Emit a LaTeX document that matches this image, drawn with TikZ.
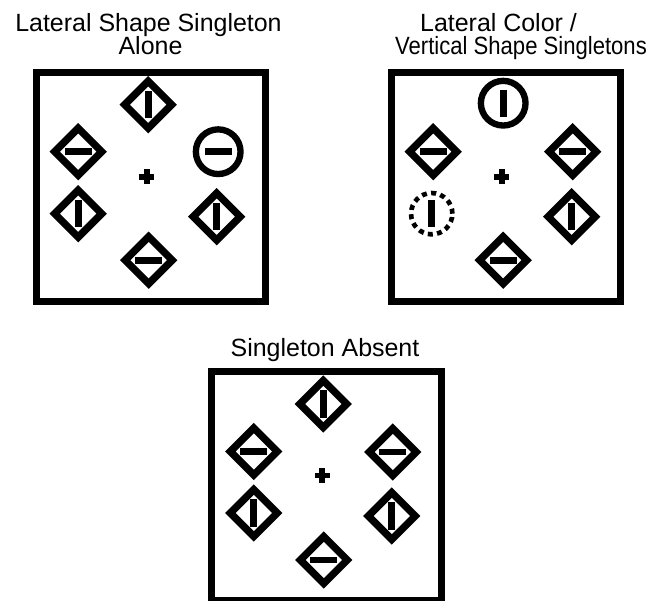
\documentclass[tikz,border=0pt]{standalone}
\usepackage{fontspec}
\newfontfamily\titlefont{Liberation Sans}
\usepackage{tikz}
\usetikzlibrary{shapes.geometric}
\tikzset{
  frame/.style       = {draw=black, line width=0.21cm},
  item diamond/.style = {diamond, draw=black, line width=0.22cm,
                         minimum size=1.5cm, inner sep=0pt},
  item circle/.style = {circle, draw=black, line width=0.19cm,
                        minimum size=1.34cm, inner sep=0pt},
  item dashed/.style = {circle, draw=black, line width=0.14cm,
                        dash pattern=on 0.15cm off 0.13cm,
                        minimum size=1.24cm, inner sep=0pt},
  hbar/.style        = {fill=black, inner sep=0pt,
                        minimum width=0.82cm, minimum height=0.2cm},
  vbar/.style        = {fill=black, inner sep=0pt,
                        minimum width=0.2cm, minimum height=0.82cm},
  fixarm/.style      = {fill=black, inner sep=0pt},
  title/.style       = {font=\titlefont\fontsize{21.3pt}{20pt}\selectfont,
                        anchor=base, inner sep=0pt},
}

\begin{document}
\begin{tikzpicture}[x=0.03cm, y=-0.03cm]
  \useasboundingbox (0,0) rectangle (652,601);

  % titles
  \node[title] (t1a) at (148.5,31.7) {Lateral Shape Singleton};
  \node[title] (t1b) at (150.5,55) {Alone};
  \node[title] (t2a) at (498.5,31.7) {Lateral Color /};
  \node[title, xscale=0.885] (t2b) at (521,55) {Vertical Shape Singletons};
  \node[title] (t3)  at (325,356) {Singleton Absent};

  % panel 1: lateral shape singleton alone
  \begin{scope}[shift={(146.7,176.7)}]
    \draw[frame] (-110.5,-104.5) rectangle (119,124.5);
    \node[fixarm, minimum width=0.46cm, minimum height=0.17cm] (a-fix) at (0,0) {};
    \node[fixarm, minimum width=0.17cm, minimum height=0.46cm] at (a-fix) {};
    \node[item diamond] (a-top) at (1.5,-72) {};
    \node[vbar] at (a-top) {};
    \node[item diamond] (a-ul) at (-68.5,-25) {};
    \node[hbar] at (a-ul) {};
    \node[item circle] (a-ur) at (71.5,-25) {};
    \node[hbar] at (a-ur) {};
    \node[item diamond] (a-ll) at (-68.5,37) {};
    \node[vbar] at (a-ll) {};
    \node[item diamond] (a-lr) at (70,40) {};
    \node[vbar] at (a-lr) {};
    \node[item diamond] (a-bot) at (2,83.5) {};
    \node[hbar] at (a-bot) {};
  \end{scope}

  % panel 2: lateral color / vertical shape singletons
  \begin{scope}[shift={(501.7,176.7)}]
    \draw[frame] (-110.5,-104.5) rectangle (119,124.5);
    \node[fixarm, minimum width=0.46cm, minimum height=0.17cm] (b-fix) at (0,0) {};
    \node[fixarm, minimum width=0.17cm, minimum height=0.46cm] at (b-fix) {};
    \node[item circle] (b-top) at (1.5,-73.5) {};
    \node[vbar] at (b-top) {};
    \node[item diamond] (b-ul) at (-68.5,-25) {};
    \node[hbar] at (b-ul) {};
    \node[item diamond] (b-ur) at (71,-25) {};
    \node[hbar] at (b-ur) {};
    \node[item dashed] (b-ll) at (-70,37) {};
    \node[vbar] at (b-ll) {};
    \node[item diamond] (b-lr) at (70,40) {};
    \node[vbar] at (b-lr) {};
    \node[item diamond] (b-bot) at (1.5,83.5) {};
    \node[hbar] at (b-bot) {};
  \end{scope}

  % panel 3: singleton absent
  \begin{scope}[shift={(322.3,475.5)}]
    \draw[frame] (-110.5,-104.5) rectangle (119,124.5);
    \node[fixarm, minimum width=0.46cm, minimum height=0.17cm] (c-fix) at (0,0) {};
    \node[fixarm, minimum width=0.17cm, minimum height=0.46cm] at (c-fix) {};
    \node[item diamond] (c-top) at (1,-71.5) {};
    \node[vbar] at (c-top) {};
    \node[item diamond] (c-ul) at (-68.5,-24) {};
    \node[hbar] at (c-ul) {};
    \node[item diamond] (c-ur) at (70.5,-23.5) {};
    \node[hbar] at (c-ur) {};
    \node[item diamond] (c-ll) at (-68.5,37.5) {};
    \node[vbar] at (c-ll) {};
    \node[item diamond] (c-lr) at (69.5,40.5) {};
    \node[vbar] at (c-lr) {};
    \node[item diamond] (c-bot) at (1.5,84.5) {};
    \node[hbar] at (c-bot) {};
  \end{scope}
\end{tikzpicture}
\end{document}
